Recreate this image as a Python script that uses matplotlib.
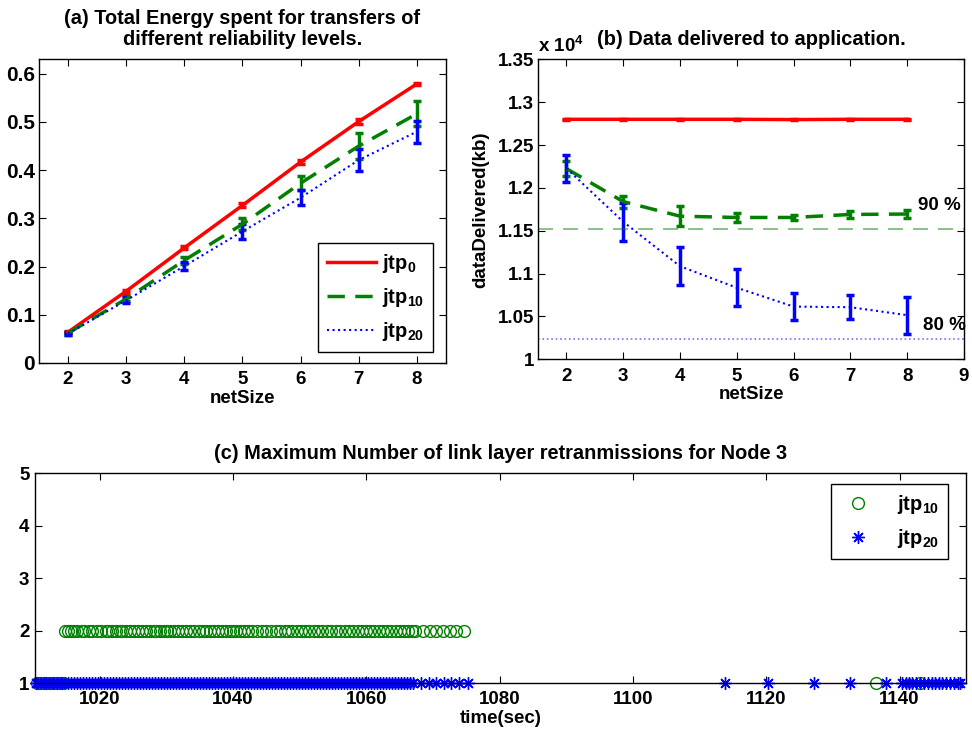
import numpy as np
import matplotlib
matplotlib.use("Agg")
import matplotlib.pyplot as plt
from matplotlib.ticker import FuncFormatter
from matplotlib.lines import Line2D

plt.rcParams['font.family'] = ['Liberation Sans', 'DejaVu Sans']
plt.rcParams['font.weight'] = 'bold'
plt.rcParams['mathtext.fontset'] = 'custom'
plt.rcParams['mathtext.rm'] = 'Liberation Sans:bold'
plt.rcParams['mathtext.bf'] = 'Liberation Sans:bold'
plt.rcParams['mathtext.it'] = 'Liberation Sans:bold'
plt.rcParams['mathtext.default'] = 'bf'

# ---------------- data ----------------
net_size = [2, 3, 4, 5, 6, 7, 8]
series_labels = [r'jtp$_{0}$', r'jtp$_{10}$', r'jtp$_{20}$']

# (a) total energy
energy_jtp0 = [0.064, 0.149, 0.239, 0.327, 0.417, 0.501, 0.579]
energy_jtp0_err = [0.002, 0.003, 0.003, 0.004, 0.005, 0.006, 0.002]
energy_jtp10 = [0.062, 0.133, 0.213, 0.288, 0.373, 0.450, 0.517]
energy_jtp10_err = [0.003, 0.005, 0.007, 0.012, 0.015, 0.027, 0.026]
energy_jtp20 = [0.061, 0.130, 0.201, 0.273, 0.343, 0.421, 0.480]
energy_jtp20_err = [0.003, 0.006, 0.009, 0.016, 0.016, 0.022, 0.023]

# (b) data delivered (kb)
data_jtp0 = [12800, 12800, 12800, 12800, 12797, 12800, 12800]
data_jtp0_err = [5, 5, 5, 5, 8, 5, 5]
data_jtp10 = [12225, 11840, 11670, 11655, 11655, 11690, 11695]
data_jtp10_err = [90, 70, 120, 55, 30, 40, 45]
data_jtp20 = [12228, 11605, 11086, 10835, 10615, 10608, 10515]
data_jtp20_err = [155, 220, 220, 215, 155, 140, 215]
full_data = 12800
level_90 = 0.9 * full_data
level_80 = 0.8 * full_data

# (c) max number of link layer retransmissions, node 3
green_t_retx1 = [1010.6, 1011.1, 1011.6, 1012.1, 1012.6, 1013.1, 1013.6, 1014.1,
                 1014.5, 1136.4, 1143.0]
green_t_retx2 = [1014.8, 1015.2, 1015.7, 1016.1, 1016.6, 1017.3, 1017.7, 1018.4,
                 1018.9, 1019.6, 1020.2, 1020.9, 1021.3, 1021.8, 1022.5, 1023.0,
                 1023.4, 1023.9, 1024.6, 1025.2, 1025.7, 1026.3, 1027.0, 1027.6,
                 1028.1, 1028.5, 1029.0, 1029.6, 1030.1, 1030.5, 1031.2, 1031.7,
                 1032.3, 1032.9, 1033.6, 1034.2, 1034.9, 1035.5, 1036.0, 1036.6,
                 1037.1, 1037.8, 1038.4, 1038.9, 1039.5, 1040.0, 1040.4, 1041.0,
                 1041.7, 1042.3, 1042.9, 1043.6, 1044.4, 1045.0, 1045.7, 1046.5,
                 1047.1, 1047.8, 1048.3, 1048.9, 1049.6, 1050.2, 1050.8, 1051.4,
                 1052.1, 1052.8, 1053.4, 1054.1, 1054.7, 1055.4, 1056.1, 1056.8,
                 1057.4, 1058.0, 1058.7, 1059.3, 1059.9, 1060.6, 1061.2, 1061.9,
                 1062.5, 1063.1, 1063.7, 1064.4, 1065.0, 1065.6, 1066.2, 1066.8,
                 1067.3, 1068.5, 1069.5, 1070.5, 1071.5, 1072.5, 1073.5, 1074.6]
blue_t_retx1 = [1010.4, 1010.8, 1011.2, 1011.6, 1012.0, 1012.4, 1012.8, 1013.2,
                1013.6, 1014.0, 1014.4, 1014.8, 1015.3, 1015.7, 1016.1, 1016.6,
                1017.0, 1017.5, 1017.9, 1018.4, 1018.8, 1019.3, 1019.7, 1020.2,
                1020.6, 1021.1, 1021.5, 1022.0, 1022.4, 1022.9, 1023.3, 1023.8,
                1024.2, 1024.7, 1025.1, 1025.6, 1026.0, 1026.5, 1026.9, 1027.4,
                1027.8, 1028.3, 1028.7, 1029.2, 1029.6, 1030.1, 1030.5, 1031.0,
                1031.4, 1031.9, 1032.3, 1032.8, 1033.2, 1033.7, 1034.1, 1034.6,
                1035.0, 1035.5, 1035.9, 1036.4, 1036.8, 1037.3, 1037.7, 1038.2,
                1038.6, 1039.1, 1039.5, 1040.0, 1040.4, 1040.9, 1041.3, 1041.8,
                1042.2, 1042.7, 1043.1, 1043.6, 1044.0, 1044.5, 1044.9, 1045.4,
                1045.8, 1046.3, 1046.7, 1047.2, 1047.6, 1048.1, 1048.5, 1049.0,
                1049.4, 1049.9, 1050.3, 1050.8, 1051.2, 1051.7, 1052.1, 1052.6,
                1053.0, 1053.5, 1053.9, 1054.4, 1054.8, 1055.3, 1055.7, 1056.2,
                1056.6, 1057.1, 1057.5, 1058.0, 1058.4, 1058.9, 1059.3, 1059.8,
                1060.2, 1060.7, 1061.1, 1061.6, 1062.0, 1062.5, 1062.9, 1063.4,
                1063.8, 1064.3, 1064.7, 1065.2, 1065.6, 1066.1, 1066.5, 1067.0,
                1068.2, 1069.4, 1070.4, 1071.7, 1072.7, 1073.9, 1075.2,
                1113.8, 1120.3, 1127.2, 1132.6, 1137.9,
                1140.3, 1140.9, 1141.4, 1141.9, 1142.5, 1143.1, 1143.6, 1144.2,
                1144.8, 1145.3, 1145.9, 1146.4, 1147.0, 1147.6, 1148.1, 1148.7,
                1149.1]

RED = (1, 0, 0)
GREEN = (0, 0.5, 0)
BLUE = (0, 0, 1)
FS = 13.5
TFS = 14.4

fig = plt.figure(figsize=(9.72, 7.36), dpi=100)


def style_axes(ax, pad=4):
    ax.tick_params(direction='in', top=True, right=True, length=5, width=0.8,
                   labelsize=FS, pad=pad)
    for lab in ax.get_xticklabels() + ax.get_yticklabels():
        lab.set_fontweight('bold')
    for s in ax.spines.values():
        s.set_linewidth(1.0)


styles = [dict(color=RED, ls='-', lw=2.5),
          dict(color=GREEN, ls='--', lw=2.5, dashes=(5, 3)),
          dict(color=BLUE, ls=':', lw=1.5)]
eb_kw = dict(elinewidth=2.5, capsize=3, capthick=2.5)

# ---------------- (a) ----------------
axa = fig.add_axes([0.0401, 0.5068, 0.4187, 0.4126])
for yv, ye, st in zip([energy_jtp0, energy_jtp10, energy_jtp20],
                      [energy_jtp0_err, energy_jtp10_err, energy_jtp20_err], styles):
    axa.errorbar(net_size, yv, yerr=ye, **st, **eb_kw)
axa.set_xlim(1.5, 8.5)
axa.set_ylim(0, 0.63)
axa.set_xticks(net_size)
axa.set_yticks([0, 0.1, 0.2, 0.3, 0.4, 0.5, 0.6])
axa.yaxis.set_major_formatter(FuncFormatter(lambda v, p: '%g' % round(v, 2)))
style_axes(axa, pad=3)
axa.tick_params(axis='y', labelsize=15)
axa.tick_params(axis='x', pad=6)
axa.set_xlabel('netSize', fontsize=FS, fontweight='bold', labelpad=1)
axa.set_title('(a) Total Energy spent for transfers of\ndifferent reliability levels.',
              fontsize=TFS, fontweight='bold', pad=10, linespacing=1.15)
handles_a = [Line2D([], [], **st) for st in styles]
la = axa.legend(handles_a, series_labels, loc='lower right',
                bbox_to_anchor=(0.968, 0.036), borderaxespad=0,
                fontsize=14.5, handlelength=2.4, labelspacing=0.55, fancybox=False,
                edgecolor='black', framealpha=1, handletextpad=0.3,
                borderpad=0.45)
la.get_frame().set_linewidth(1.0)

# ---------------- (b) ----------------
axb = fig.add_axes([0.5535, 0.5118, 0.4383, 0.4076])
for yv, ye, st in zip([data_jtp0, data_jtp10, data_jtp20],
                      [data_jtp0_err, data_jtp10_err, data_jtp20_err], styles):
    axb.errorbar(net_size, yv, yerr=ye, **st, **eb_kw)
axb.axhline(level_90, color=GREEN, alpha=0.55, lw=1.2, ls='--', dashes=(9, 6))
axb.axhline(level_80, color=BLUE, alpha=0.55, lw=1.2, ls=':')
axb.text(8.19, 11800, '90 %', fontsize=FS, fontweight='bold', va='center', ha='left')
axb.text(8.27, 10390, '80 %', fontsize=FS, fontweight='bold', va='center', ha='left')
axb.set_xlim(1.5, 9)
axb.set_ylim(10000, 13500)
axb.set_xticks([2, 3, 4, 5, 6, 7, 8, 9])
axb.set_yticks([10000, 10500, 11000, 11500, 12000, 12500, 13000, 13500])
axb.yaxis.set_major_formatter(FuncFormatter(lambda v, p: '%g' % round(v / 1e4, 3)))
style_axes(axb, pad=3)
axb.tick_params(axis='x', pad=6)
axb.set_xlabel('netSize', fontsize=FS, fontweight='bold', labelpad=1)
axb.set_ylabel('dataDelivered(kb)', fontsize=FS, fontweight='bold', labelpad=6)
axb.set_title('(b) Data delivered to application.', fontsize=TFS, fontweight='bold',
              pad=10)
axb.text(0.0, 1.012, r'x 10$^{4}$', transform=axb.transAxes, fontsize=FS,
         fontweight='bold', ha='left', va='bottom')

# ---------------- (c) ----------------
axc = fig.add_axes([0.036, 0.072, 0.958, 0.285])
axc.plot(green_t_retx2, np.full(len(green_t_retx2), 2), ls='none', marker='o', ms=8.5,
         mfc='none', mec=GREEN, mew=1.0, clip_on=False)
axc.plot(green_t_retx1, np.full(len(green_t_retx1), 1), ls='none', marker='o', ms=8.5,
         mfc='none', mec=GREEN, mew=1.0, clip_on=False)
axc.plot(blue_t_retx1, np.full(len(blue_t_retx1), 1), ls='none', marker=(8, 2, 0),
         ms=9, mec=BLUE, mew=1.0, clip_on=False)
axc.set_xlim(1010.3, 1150)
axc.set_ylim(1, 5)
axc.set_xticks([1020, 1040, 1060, 1080, 1100, 1120, 1140])
axc.set_yticks([1, 2, 3, 4, 5])
style_axes(axc, pad=4)
axc.tick_params(axis='x', pad=6)
axc.set_xlabel('time(sec)', fontsize=FS, fontweight='bold', labelpad=1)
axc.set_title('(c) Maximum Number of link layer retranmissions for Node 3',
              fontsize=TFS, fontweight='bold', pad=10)
handles_c = [Line2D([], [], ls='none', marker='o', ms=8.5, mfc='none', mec=GREEN, mew=1.0),
             Line2D([], [], ls='none', marker=(8, 2, 0), ms=9, mec=BLUE, mew=1.0)]
lc = axc.legend(handles_c, series_labels[1:], loc='upper right',
                bbox_to_anchor=(0.981, 0.948), borderaxespad=0,
                fontsize=14.5, handlelength=1.8, labelspacing=0.55, fancybox=False,
                edgecolor='black', framealpha=1, handletextpad=1.05, borderpad=0.45,
                numpoints=1)
lc.get_frame().set_linewidth(1.0)

fig.savefig('out.png', dpi=100)
